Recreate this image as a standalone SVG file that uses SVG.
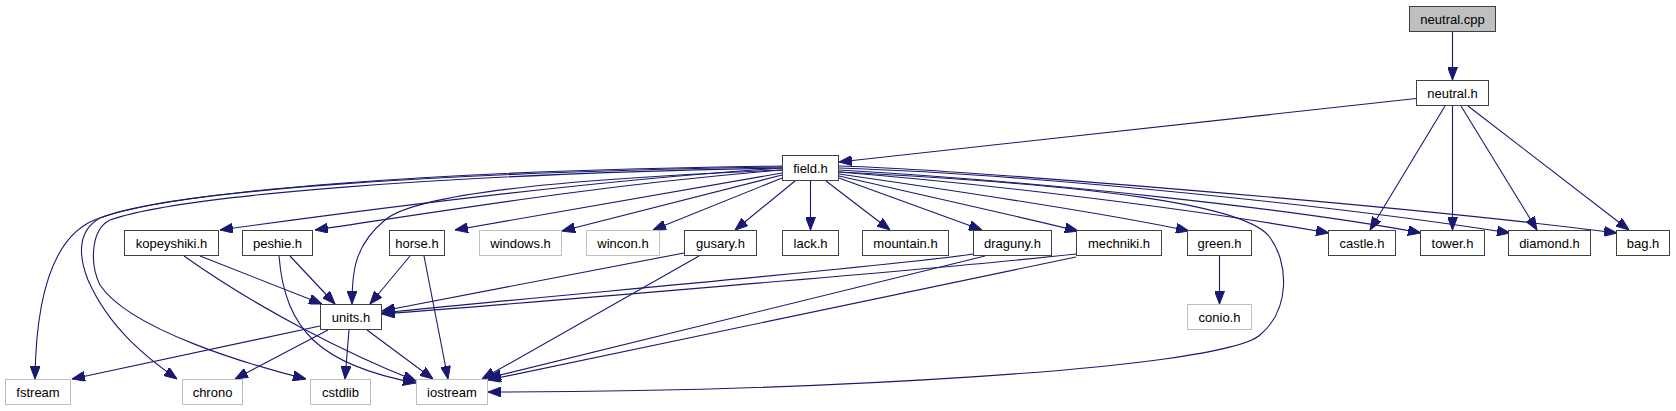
<svg xmlns="http://www.w3.org/2000/svg" width="1676" height="411" viewBox="0 0 1676 411">
<style>
.n rect{fill:#fff;stroke:#404040;stroke-width:1}
.g rect{fill:#fff;stroke:#bfbfbf;stroke-width:1}
.r rect{fill:#bfbfbf;stroke:#404040;stroke-width:1}
text{font-family:"Liberation Sans",Arial,sans-serif;font-size:13px;fill:#000;text-anchor:middle}
#edges path{fill:none;stroke:#191970;stroke-width:1.1;marker-end:url(#arr)}
</style>
<defs>
<marker id="arr" viewBox="0 0 13 10" refX="13" refY="5" markerWidth="13" markerHeight="10" markerUnits="userSpaceOnUse" orient="auto">
<path d="M0,0 L13,5 L0,10 Z" fill="#191970" stroke="#191970" stroke-width="1"/>
</marker>
</defs>
<rect width="1676" height="411" fill="#fff"/>
<g id="edges">
<path d="M1452.5,32 L1452.5,80"/>
<path d="M1416,98.5 L839,162"/>
<path d="M1445,106 L1370,230"/>
<path d="M1452.5,106 L1452.5,230"/>
<path d="M1461,106 L1537,230"/>
<path d="M1468,106 L1629,230"/>
<path d="M810.5,181 L810.5,230"/>
<path d="M795,181 L735,230"/>
<path d="M826,181 L890,230"/>
<path d="M839,178 L982,230"/>
<path d="M839,176 C900,190 1000,212 1078,231"/>
<path d="M839,174 C950,190 1100,212 1189,231"/>
<path d="M839,172 C1000,185 1200,210 1329,233"/>
<path d="M839,170 C1050,182 1300,210 1421,233"/>
<path d="M839,168 C1050,175 1350,208 1510,233"/>
<path d="M839,166 C950,169 1400,205 1617,233"/>
<path d="M839,172 C1100,185 1240,205 1268,235 C1290,262 1290,310 1260,335 C1220,370 800,392 488,392"/>
<path d="M782,166 C450,170 160,190 90,222 C55,240 36,290 35,379"/>
<path d="M782,167 C450,172 170,190 100,218 C75,232 80,260 88,280 C110,330 150,360 177,379"/>
<path d="M782,168 C450,174 180,195 110,220 C90,230 90,265 100,285 C130,330 250,365 306,379"/>
<path d="M782,170 C600,178 420,190 385,220 C355,245 352,270 352,304"/>
<path d="M782,168 C600,180 400,205 220,230"/>
<path d="M782,170 C600,185 450,210 315,230"/>
<path d="M782,173 L455,230"/>
<path d="M782,175 L562,231"/>
<path d="M782,178 L653,230"/>
<path d="M200,256 L322,304"/>
<path d="M184,256 C260,310 350,355 416,381"/>
<path d="M290,256 L335,304"/>
<path d="M279,256 C285,330 320,365 416,383"/>
<path d="M410,256 L370,304"/>
<path d="M424,256 L448,379"/>
<path d="M684,253 L382,311"/>
<path d="M699,256 L482,379"/>
<path d="M973,254 C900,266 500,300 382,313"/>
<path d="M985,256 L488,378"/>
<path d="M1076,254 C950,268 500,305 382,314"/>
<path d="M1076,257 L488,380"/>
<path d="M1219.5,256 L1219.5,304"/>
<path d="M320,326 L72,379"/>
<path d="M328,330 L235,379"/>
<path d="M349,330 L345,379"/>
<path d="M367,330 L433,379"/>
</g>
<g id="neutral_cpp" class="r"><rect x="1409.5" y="6.5" width="86" height="25"/><text x="1452.5" y="23.5">neutral.cpp</text></g>
<g id="neutral_h" class="n"><rect x="1416.5" y="80.5" width="72" height="25"/><text x="1452.5" y="97.5">neutral.h</text></g>
<g id="field_h" class="n"><rect x="782.5" y="155.5" width="56" height="25"/><text x="810.5" y="172.5">field.h</text></g>
<g id="kopeyshiki_h" class="n"><rect x="124.5" y="230.5" width="94" height="25"/><text x="171.5" y="247.5">kopeyshiki.h</text></g>
<g id="peshie_h" class="n"><rect x="242.5" y="230.5" width="70" height="25"/><text x="277.5" y="247.5">peshie.h</text></g>
<g id="horse_h" class="n"><rect x="389.5" y="230.5" width="55" height="25"/><text x="417" y="247.5">horse.h</text></g>
<g id="windows_h" class="g"><rect x="479.5" y="230.5" width="82" height="25"/><text x="520.5" y="247.5">windows.h</text></g>
<g id="wincon_h" class="g"><rect x="586.5" y="230.5" width="73" height="25"/><text x="623" y="247.5">wincon.h</text></g>
<g id="gusary_h" class="n"><rect x="684.5" y="230.5" width="72" height="25"/><text x="720.5" y="247.5">gusary.h</text></g>
<g id="lack_h" class="n"><rect x="782.5" y="230.5" width="56" height="25"/><text x="810.5" y="247.5">lack.h</text></g>
<g id="mountain_h" class="n"><rect x="862.5" y="230.5" width="86" height="25"/><text x="905.5" y="247.5">mountain.h</text></g>
<g id="draguny_h" class="n"><rect x="973.5" y="230.5" width="78" height="25"/><text x="1012.5" y="247.5">draguny.h</text></g>
<g id="mechniki_h" class="n"><rect x="1076.5" y="230.5" width="85" height="25"/><text x="1119" y="247.5">mechniki.h</text></g>
<g id="green_h" class="n"><rect x="1187.5" y="230.5" width="64" height="25"/><text x="1219.5" y="247.5">green.h</text></g>
<g id="castle_h" class="n"><rect x="1328.5" y="230.5" width="67" height="25"/><text x="1362" y="247.5">castle.h</text></g>
<g id="tower_h" class="n"><rect x="1420.5" y="230.5" width="64" height="25"/><text x="1452.5" y="247.5">tower.h</text></g>
<g id="diamond_h" class="n"><rect x="1508.5" y="230.5" width="82" height="25"/><text x="1549.5" y="247.5">diamond.h</text></g>
<g id="bag_h" class="n"><rect x="1616.5" y="230.5" width="53" height="25"/><text x="1643" y="247.5">bag.h</text></g>
<g id="units_h" class="n"><rect x="320.5" y="304.5" width="61" height="25"/><text x="351" y="321.5">units.h</text></g>
<g id="conio_h" class="g"><rect x="1187.5" y="304.5" width="64" height="25"/><text x="1219.5" y="321.5">conio.h</text></g>
<g id="fstream" class="g"><rect x="5.5" y="379.5" width="65" height="25"/><text x="38" y="396.5">fstream</text></g>
<g id="chrono" class="g"><rect x="182.5" y="379.5" width="60" height="25"/><text x="212.5" y="396.5">chrono</text></g>
<g id="cstdlib" class="g"><rect x="310.5" y="379.5" width="60" height="25"/><text x="340.5" y="396.5">cstdlib</text></g>
<g id="iostream" class="g"><rect x="416.5" y="379.5" width="71" height="25"/><text x="452" y="396.5">iostream</text></g>
</svg>
